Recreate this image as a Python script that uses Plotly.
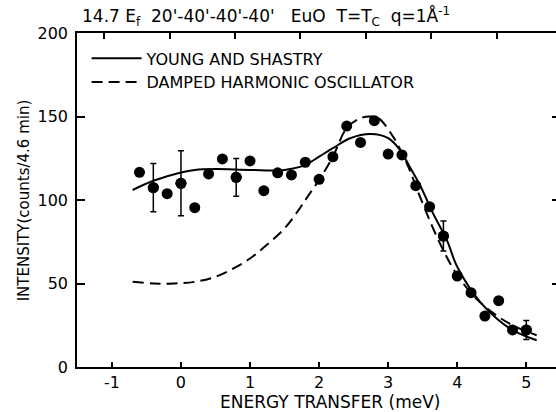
import plotly.graph_objects as go

# Measured data points (energy transfer in meV, intensity in counts/4.6 min)
energy = [-0.6, -0.4, -0.2, 0.0, 0.2, 0.4, 0.6, 0.8, 1.0, 1.2, 1.4, 1.6, 1.8,
          2.0, 2.2, 2.4, 2.6, 2.8, 3.0, 3.2, 3.4, 3.6, 3.8, 4.0, 4.2, 4.4,
          4.6, 4.8, 5.0]
intensity = [116.6, 107.4, 103.8, 110.0, 95.4, 115.6, 124.6, 113.6, 123.4,
             105.6, 116.3, 115.0, 122.6, 112.4, 125.9, 144.3, 134.5, 147.5,
             127.5, 127.0, 108.6, 96.0, 78.4, 54.5, 44.5, 30.5, 39.7, 22.2,
             22.2]

# Points that carry error bars and their half-lengths
err_index = [1, 3, 7, 22, 28]
err_size = [14.5, 19.5, 11.3, 9.0, 5.7]

# Young and Shastry fit (solid)
ys_x = [-0.7, -0.4, 0.0, 0.2, 0.5, 1.0, 1.5, 1.8, 2.0, 2.2, 2.45, 2.75, 3.0,
        3.17, 3.31, 3.46, 3.65, 3.85, 4.0, 4.33, 4.6, 4.85, 5.15]
ys_y = [106, 111.5, 116.5, 118, 118.5, 118, 118, 121, 126, 131, 137, 139.5,
        137, 130, 120, 109, 92, 76, 60, 39, 28, 21, 16]

# Damped harmonic oscillator fit (dashed)
dho_x = [-0.7, -0.4, -0.1, 0.2, 0.5, 0.76, 1.0, 1.24, 1.5, 1.72, 1.85, 2.0,
         2.2, 2.4, 2.6, 2.75, 2.86, 3.07, 3.27, 3.46, 3.75, 4.0, 4.3, 4.6,
         4.85, 5.15]
dho_y = [51, 50, 50, 51, 54, 59, 65, 73, 83, 95, 103, 112, 126, 143, 149,
         150, 149, 138, 122, 102, 74, 55, 40, 30, 24, 19]

x_ticks = [-1, 0, 1, 2, 3, 4, 5]
x_tick_text = ["-1", "0", "1", "2", "3", "4", "5"]
y_ticks = [0, 50, 100, 150, 200]

FONT = "DejaVu Sans"

fig = go.Figure()

fig.add_trace(go.Scatter(
    x=ys_x, y=ys_y, mode="lines", name="YOUNG AND SHASTRY",
    line=dict(color="black", width=2, shape="spline", smoothing=1.0),
))
fig.add_trace(go.Scatter(
    x=dho_x, y=dho_y, mode="lines", name="DAMPED HARMONIC OSCILLATOR",
    line=dict(color="black", width=2, dash="11px,6px", shape="spline", smoothing=1.0),
))
fig.add_trace(go.Scatter(
    x=energy, y=intensity, mode="markers", showlegend=False,
    marker=dict(color="black", size=11),
))
fig.add_trace(go.Scatter(
    x=[energy[i] for i in err_index], y=[intensity[i] for i in err_index],
    mode="markers", showlegend=False,
    marker=dict(color="black", size=11),
    error_y=dict(type="data", array=err_size, visible=True, color="black",
                 thickness=1.5, width=3),
))
# empty traces to activate the top and right tick axes
fig.add_trace(go.Scatter(x=[], y=[], xaxis="x2", yaxis="y", showlegend=False))
fig.add_trace(go.Scatter(x=[], y=[], xaxis="x", yaxis="y2", showlegend=False))

fig.update_layout(
    width=556, height=412,
    margin=dict(l=77, r=0, t=33, b=45, pad=0),
    paper_bgcolor="white", plot_bgcolor="white",
    font=dict(family=FONT, color="black"),
    showlegend=True,
    legend=dict(x=0.02, y=0.975, xanchor="left", yanchor="top",
                bgcolor="rgba(0,0,0,0)", font=dict(size=16, family=FONT),
                itemwidth=50, tracegroupgap=0),
    xaxis=dict(range=[-1.505, 5.43], tickvals=x_ticks, ticktext=x_tick_text,
               ticks="inside", ticklen=5, tickwidth=1.5, tickcolor="black",
               showline=True, linecolor="black", linewidth=1.5,
               showgrid=False, zeroline=False,
               tickfont=dict(size=16, family=FONT)),
    xaxis2=dict(overlaying="x", side="top", range=[-1.417, 5.907],
                tickvals=x_ticks, ticks="inside", ticklen=6, tickwidth=1.5,
                tickcolor="black", showline=True, linecolor="black",
                linewidth=1.5, showticklabels=False, showgrid=False,
                zeroline=False),
    yaxis=dict(range=[0, 200], tickvals=y_ticks, ticks="inside", ticklen=8,
               tickwidth=1.5, tickcolor="black", showline=True,
               linecolor="black", linewidth=1.5, showgrid=False,
               zeroline=False, tickfont=dict(size=16, family=FONT),
               ticklabelstandoff=4),
    yaxis2=dict(overlaying="y", side="right", range=[0, 200],
                tickvals=[50, 100, 150], ticks="inside", ticklen=4,
                tickwidth=1.5, tickcolor="black", showline=False,
                showticklabels=False, showgrid=False, zeroline=False),
    annotations=[
        dict(text="14.7 E<sub>f</sub>  20'-40'-40'-40'   EuO  T=T<sub>C</sub>  q=1Å<sup>-1</sup>",
             xref="paper", yref="paper", x=0.006, y=1, xanchor="left",
             yanchor="bottom", yshift=2, showarrow=False,
             font=dict(size=17, family=FONT)),
        dict(text="ENERGY TRANSFER (meV)", xref="paper", yref="paper",
             x=0.528, y=0, yshift=-35, xanchor="center", yanchor="middle",
             showarrow=False, font=dict(size=17, family=FONT)),
        dict(text="INTENSITY(counts/4.6 min)", xref="paper", yref="paper",
             x=-0.11, y=0.5, xanchor="center", yanchor="middle",
             textangle=-90, showarrow=False, font=dict(size=15, family=FONT)),
    ],
)

fig.write_html("out.html")
